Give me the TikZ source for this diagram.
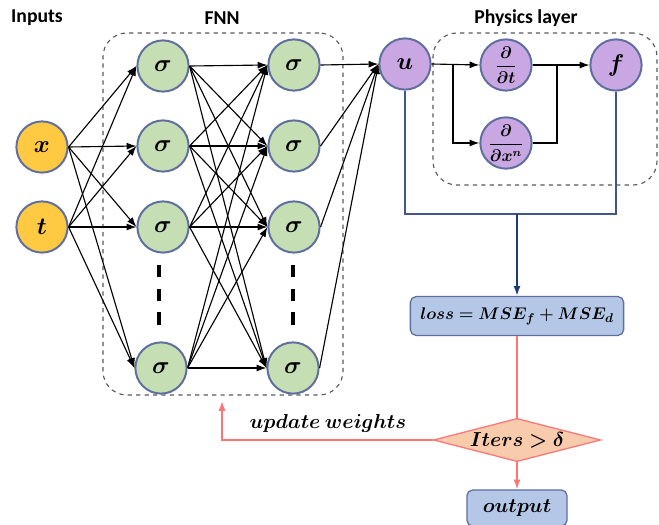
\documentclass[tikz,border=0pt]{standalone}
\usepackage{fontspec}
\setmainfont{Carlito}
\usepackage{amsmath,bm}
\usetikzlibrary{arrows.meta,shapes.geometric}

\definecolor{inyellow}{HTML}{FFC942}
\definecolor{fnngreen}{HTML}{C5DEB3}
\definecolor{phypurple}{HTML}{C9A7E2}
\definecolor{nodeedge}{HTML}{5E6E9E}
\definecolor{lossblue}{HTML}{B4C7E7}
\definecolor{iterfill}{HTML}{F8CBAD}
\definecolor{iterpink}{HTML}{FF7575}
\definecolor{navy}{HTML}{1F3A78}

\begin{document}
\begin{tikzpicture}[x=0.025cm, y=-0.025cm, line width=0.8pt,
    >={Latex[length=7pt,width=5pt]},
    neuron/.style={circle, draw=nodeedge, line width=1.4pt, minimum size=1.28cm, inner sep=0pt, font=\fontsize{16}{18}\selectfont},
    groupbox/.style={draw=black!65, dashed, line width=0.8pt, rounded corners=0.6cm, inner sep=0pt},
    flowbox/.style={rectangle, draw=nodeedge, line width=0.9pt, fill=lossblue, rounded corners=4pt, inner sep=0pt, font=\fontsize{12.5}{15}\selectfont},
    title/.style={font=\fontsize{14}{16}\selectfont\bfseries}]
    \useasboundingbox (0,0) rectangle (659,525);

    % titles
    \node (inputs) at (37,18) [title] {Inputs};
    \node (fnn) at (222,18) [title] {FNN};
    \node (physics) at (526,18) [title] {Physics layer};

    % dashed groups
    \node (fnnbox) at (223,214) [groupbox, minimum width=6cm, minimum height=9.05cm] {};
    \node (phybox) at (545,109) [groupbox, minimum width=5.6cm, minimum height=3.8cm] {};

    % inputs
    \node (x) at (42,147) [neuron, fill=inyellow] {$\bm{x}$};
    \node (t) at (42,227) [neuron, fill=inyellow] {$\bm{t}$};

    % hidden layers
    \node (h1) at (163,66) [neuron, fill=fnngreen] {$\bm{\sigma}$};
    \node (h2) at (163,146) [neuron, fill=fnngreen] {$\bm{\sigma}$};
    \node (h3) at (163,227) [neuron, fill=fnngreen] {$\bm{\sigma}$};
    \node (h4) at (161,368) [neuron, fill=fnngreen] {$\bm{\sigma}$};
    \node (g1) at (294,65) [neuron, fill=fnngreen] {$\bm{\sigma}$};
    \node (g2) at (294,146) [neuron, fill=fnngreen] {$\bm{\sigma}$};
    \node (g3) at (294,227) [neuron, fill=fnngreen] {$\bm{\sigma}$};
    \node (g4) at (293,368) [neuron, fill=fnngreen] {$\bm{\sigma}$};

    \draw[line width=2.8pt, dash pattern=on 0.31cm off 0.28cm] (159,265) -- (159,325);
    \draw[line width=2.8pt, dash pattern=on 0.31cm off 0.28cm] (293,265) -- (293,325);

    % physics layer
    \node (u) at (405,64) [neuron, fill=phypurple] {$\bm{u}$};
    \node (dt) at (506,65) [neuron, fill=phypurple, font=\fontsize{12}{14}\selectfont] {$\bm{\dfrac{\partial}{\partial t}}$};
    \node (dx) at (506,143) [neuron, fill=phypurple, font=\fontsize{12}{14}\selectfont] {$\bm{\dfrac{\partial}{\partial x^n}}$};
    \node (f) at (616,65) [neuron, fill=phypurple] {$\bm{f}$};

    % training loop
    \node (loss) at (517,316) [flowbox, minimum width=5.33cm, minimum height=0.97cm] {$\bm{loss = MSE_f + MSE_d}$};
    \node (iters) at (517,440) [diamond, draw=iterpink, fill=iterfill, line width=0.9pt, aspect=3.9, inner sep=0pt, minimum width=4.18cm, minimum height=1.08cm, font=\fontsize{14}{16}\selectfont] {$\bm{Iters > \delta}$};
    \node (out) at (517,508) [flowbox, minimum width=2.5cm, minimum height=0.9cm, font=\fontsize{14}{16}\selectfont] {$\bm{output}$};
    \node (upd) at (328,423) [font=\fontsize{14.5}{16}\selectfont] {$\bm{update\ weights}$};

    % connections
    \foreach \a in {x,t}
        \foreach \b in {h1,h2,h3,h4}
            \draw[->] (\a.east) -- (\b.west);
    \foreach \a in {h1,h2,h3,h4}
        \foreach \b in {g1,g2,g3,g4}
            \draw[->] (\a.east) -- (\b.west);
    \foreach \a in {g1,g2,g3,g4}
        \draw[->] (\a.east) -- (u.west);

    \coordinate (split) at (453,64);
    \coordinate (merge) at (557,65);
    \draw[->] (u.east) -- (dt.west);
    \draw[->] (split) |- (dx.west);
    \draw[->] (dt.east) -- (f.west);
    \draw (dx.east) -| (merge);

    \coordinate (join) at (517,214);
    \draw[navy!85, line width=1pt] (u.south) -- (u.south |- join) -- (f.south |- join) -- (f.south);
    \draw[->, navy, line width=1.4pt] (join) -- (loss.north);

    \coordinate (back) at (222,401);
    \draw[iterpink, line width=1pt] (loss.south) -- (iters.north);
    \draw[->, iterpink, line width=1pt] (iters.south) -- (out.north);
    \draw[->, iterpink, line width=1pt] (iters.west) -| (back);
\end{tikzpicture}
\end{document}
